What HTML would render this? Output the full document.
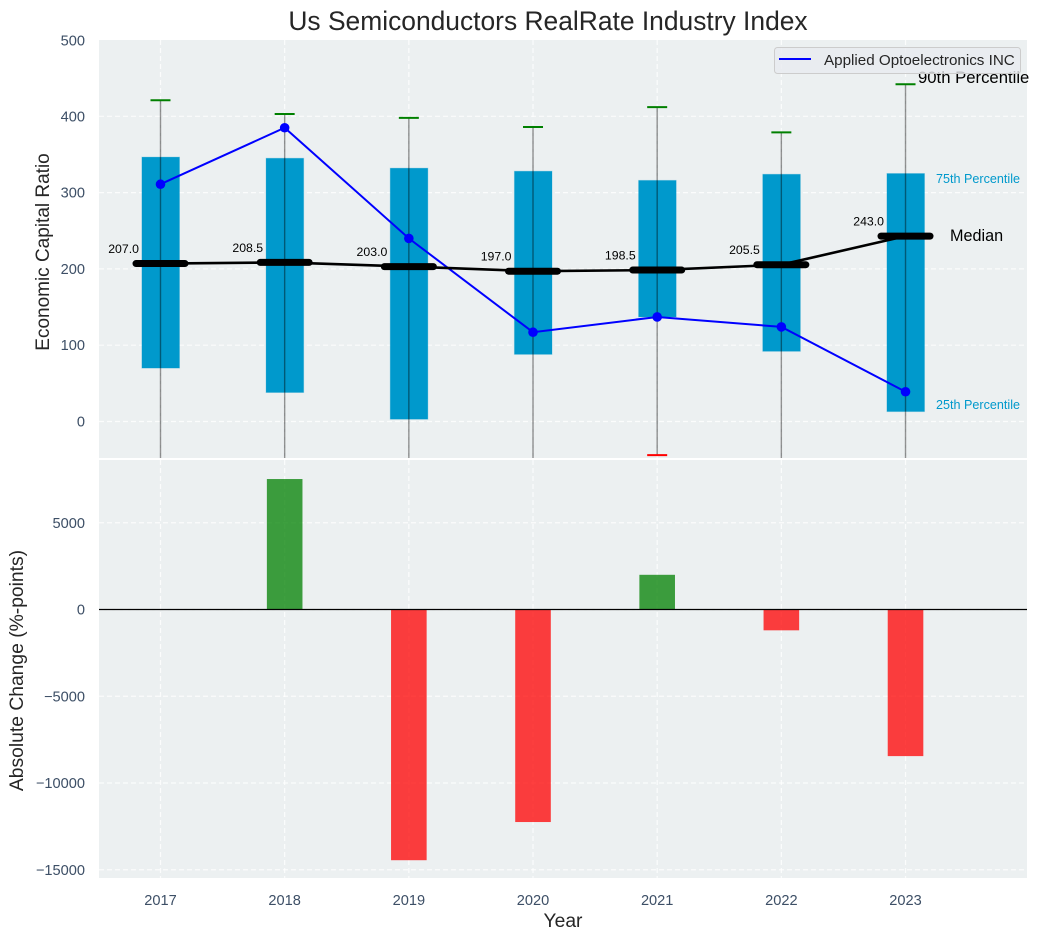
<!DOCTYPE html>
<html lang="en">
<head>
<meta charset="utf-8">
<title>Us Semiconductors RealRate Industry Index</title>
<style>
html,body{margin:0;padding:0;background:#fff;width:1038px;height:940px;overflow:hidden}
svg{display:block;font-family:"Liberation Sans",Arial,sans-serif}
</style>
</head>
<body>
<svg id="chart" xmlns="http://www.w3.org/2000/svg" width="1038" height="940" viewBox="0 0 1038 940">
<defs>
<clipPath id="top-clip"><rect x="99" y="40" width="928" height="418"></rect></clipPath>
<clipPath id="bottom-clip"><rect x="99" y="460" width="928" height="418"></rect></clipPath>
</defs>
<rect x="99" y="40" width="928" height="418" fill="#ecf0f1"></rect>
<rect x="99" y="460" width="928" height="418" fill="#ecf0f1"></rect>
<g id="top-grid"></g>
<g id="bottom-grid"></g>
<g id="iqr-bars" clip-path="url(#top-clip)"></g>
<g id="whiskers" clip-path="url(#top-clip)"></g>
<g id="company-series" clip-path="url(#top-clip)"></g>
<g id="median-series" clip-path="url(#top-clip)"></g>
<g id="median-labels"></g>
<g id="change-bars" clip-path="url(#bottom-clip)"></g>
<line x1="99" x2="1027" y1="609.5" y2="609.5" stroke="#000" stroke-width="1.3"></line>
<g id="ticks"></g>

<text x="548" y="30" text-anchor="middle" font-size="26.4" fill="#262626">Us Semiconductors RealRate Industry Index</text>
<text transform="translate(49,252) rotate(-90)" text-anchor="middle" font-size="19" fill="#262626">Economic Capital Ratio</text>
<text transform="translate(23,670.5) rotate(-90)" text-anchor="middle" font-size="19.3" fill="#262626">Absolute Change (%-points)</text>
<text x="563" y="927" text-anchor="middle" font-size="19.3" fill="#262626">Year</text>

<text x="918" y="83" font-size="16.7" fill="#000">90th Percentile</text>
<text x="936" y="183" font-size="12.6" fill="#0099cc">75th Percentile</text>
<text x="950" y="241" font-size="16.2" fill="#000">Median</text>
<text x="936" y="409" font-size="12.6" fill="#0099cc">25th Percentile</text>

<g>
<rect x="774.5" y="47.5" width="246" height="26" rx="3" fill="#e8ebf0" fill-opacity="0.8" stroke="#cccccc" stroke-width="1"></rect>
<line x1="779" x2="811" y1="59" y2="59" stroke="#0000ff" stroke-width="2"></line>
<text x="824" y="65" font-size="15.2" fill="#262626">Applied Optoelectronics INC</text>
</g>
</svg>
<script>
var years = [2017, 2018, 2019, 2020, 2021, 2022, 2023];
var p90 = [421, 403, 398, 386, 412, 379, 442];
var p75 = [346.5, 345, 332, 328, 316, 324, 325];
var medians = [207, 208.5, 203, 197, 198.5, 205.5, 243];
var p25 = [70, 38, 3, 88, 137, 92, 13];
var p10 = [-95, -110, -120, -80, -44, -75, -130];
var company = [311, 385, 240, 117, 137, 124, 39];
var changes = [0, 7520, -14450, -12250, 2000, -1200, -8450];
var topTicks = [0, 100, 200, 300, 400, 500];
var bottomTicks = [-15000, -10000, -5000, 0, 5000];

var NS = 'http://www.w3.org/2000/svg';
function xScale(year) { return 160.5 + (year - 2017) * 124.17; }
function yTop(value) { return 421.5 - value * 0.7630; }
function yBottom(value) { return 609.5 - value * 0.01735; }
function make(tag, parentId, attrs, text) {
  var el = document.createElementNS(NS, tag);
  for (var k in attrs) { el.setAttribute(k, attrs[k]); }
  if (text !== undefined) { el.textContent = text; }
  document.getElementById(parentId).appendChild(el);
  return el;
}
function fmtTick(v) { return v < 0 ? '\u2212' + Math.abs(v) : String(v); }

var gridStyle = { stroke: '#ffffff', 'stroke-width': 1.2, 'stroke-dasharray': '5 3', 'stroke-opacity': 0.8 };
function gridLine(parentId, x1, x2, y1, y2) {
  var a = { x1: x1, x2: x2, y1: y1, y2: y2 };
  for (var k in gridStyle) { a[k] = gridStyle[k]; }
  return make('line', parentId, a);
}

topTicks.forEach(function (t) {
  var y = yTop(t);
  if (t < 500) {
    var g = gridLine('top-grid', 99, 1027, y, y);
    
    
  }
  var label = make('text', 'ticks', { x: 85, y: Math.max(y + 5, 45.5), 'text-anchor': 'end', 'font-size': 14.6, fill: '#3d4f66' }, fmtTick(t));
  
  
});
bottomTicks.forEach(function (t) {
  var y = yBottom(t);
  var g = gridLine('bottom-grid', 99, 1027, y, y);
  
  
  var label = make('text', 'ticks', { x: 85, y: y + 5, 'text-anchor': 'end', 'font-size': 14.6, fill: '#3d4f66' }, fmtTick(t));
  
  
});

years.forEach(function (yr, i) {
  var x = xScale(yr);
  var g1 = gridLine('top-grid', x, x, 40, 458);
  
  
  var g2 = gridLine('bottom-grid', x, x, 460, 878);
  
  

  var tick = make('text', 'ticks', { x: x, y: 905, 'text-anchor': 'middle', 'font-size': 14.6, fill: '#3d4f66' }, String(yr));
  
  

  var bar = make('rect', 'iqr-bars', {
    x: x - 18.6, width: 37.6, y: yTop(p75[i]), height: yTop(p25[i]) - yTop(p75[i]),
    fill: '#0099cc', stroke: '#0099cc', 'stroke-opacity': 0.25, 'stroke-width': 1
  });
  
  

  var whisker = make('line', 'whiskers', {
    x1: x, x2: x, y1: yTop(p90[i]), y2: yTop(p10[i]),
    stroke: '#000000', 'stroke-opacity': 0.42, 'stroke-width': 1.4
  });
  
  

  var capHigh = make('line', 'whiskers', {
    x1: x - 10, x2: x + 10, y1: yTop(p90[i]), y2: yTop(p90[i]), stroke: '#008000', 'stroke-width': 2
  });
  
  

  var capLow = make('line', 'whiskers', {
    x1: x - 10, x2: x + 10, y1: yTop(p10[i]), y2: yTop(p10[i]), stroke: '#ff0000', 'stroke-width': 2
  });
  
  

  var medianLabel = make('text', 'median-labels', {
    x: x - 21.5, y: yTop(medians[i]) - 10.5, 'text-anchor': 'end', 'font-size': 12.3, fill: '#000'
  }, medians[i].toFixed(1));
  
  

  if (changes[i] !== 0) {
    var top = Math.min(yBottom(changes[i]), yBottom(0));
    var changeBar = make('rect', 'change-bars', {
      x: x - 17.8, width: 35.6, y: top, height: Math.abs(yBottom(changes[i]) - yBottom(0)),
      fill: changes[i] > 0 ? '#008000' : '#ff0000', 'fill-opacity': 0.75
    });
    
    
  }
});

var companyLine = make('polyline', 'company-series', {
  points: years.map(function (yr, i) { return xScale(yr) + ',' + yTop(company[i]); }).join(' '),
  fill: 'none', stroke: '#0000ff', 'stroke-width': 2
});



years.forEach(function (yr, i) {
  var dot = make('circle', 'company-series', { cx: xScale(yr), cy: yTop(company[i]), r: 4.8, fill: '#0000ff' });
  
  
});

var medianLine = make('polyline', 'median-series', {
  points: years.map(function (yr, i) { return xScale(yr) + ',' + yTop(medians[i]); }).join(' '),
  fill: 'none', stroke: '#000000', 'stroke-width': 2.6
});



years.forEach(function (yr, i) {
  var x = xScale(yr);
  var seg = make('line', 'median-series', {
    x1: x - 24.5, x2: x + 24.5, y1: yTop(medians[i]), y2: yTop(medians[i]),
    stroke: '#000000', 'stroke-width': 7, 'stroke-linecap': 'round'
  });
  
  
});
</script>
</body>
</html>
